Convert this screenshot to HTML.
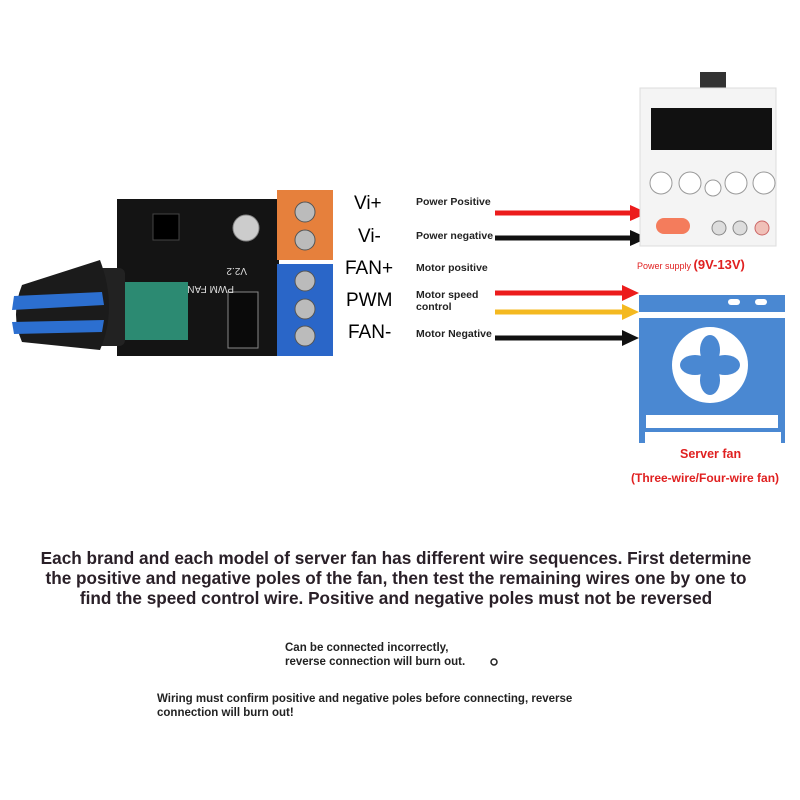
<!DOCTYPE html>
<html><head><meta charset="utf-8"><style>
body{margin:0;width:800px;height:800px;background:#fff;position:relative;overflow:hidden;font-family:"Liberation Sans",sans-serif}
.a{position:absolute;white-space:nowrap}
.t{font-weight:bold;color:#222}
</style></head><body>
<svg class="a" style="left:0;top:0" width="800" height="800">
<rect x="117" y="199" width="162" height="157" fill="#141414"/>
<rect x="153" y="214" width="26" height="26" fill="#000" stroke="#444"/>
<circle cx="246" cy="228" r="13" fill="#ccc" stroke="#888"/>
<rect x="120" y="282" width="68" height="58" fill="#2c8a72"/>
<rect x="228" y="292" width="30" height="56" fill="#0a0a0a" stroke="#888"/>
<text x="247" y="268" fill="#ddd" font-size="10" transform="rotate(180 247 268)">V2.2</text>
<text x="262" y="282" fill="#ddd" font-size="10" transform="rotate(180 248 284)">PWM FAN</text>
<rect x="277" y="190" width="56" height="70" fill="#e6803c"/>
<circle cx="305" cy="212" r="10" fill="#bbb" stroke="#555"/>
<circle cx="305" cy="240" r="10" fill="#bbb" stroke="#555"/>
<rect x="277" y="264" width="56" height="92" fill="#2a66c8"/>
<circle cx="305" cy="281" r="10" fill="#bbb" stroke="#555"/>
<circle cx="305" cy="309" r="10" fill="#bbb" stroke="#555"/>
<circle cx="305" cy="336" r="10" fill="#bbb" stroke="#555"/>
<rect x="95" y="268" width="30" height="78" rx="6" fill="#222"/>
<path d="M22,285 Q10,315 22,342 L100,350 Q118,308 100,260z" fill="#1b1b1b"/>
<path d="M14,296 L102,292 L104,305 L12,310z" fill="#2c6fd0"/>
<path d="M12,322 L104,320 L102,332 L14,334z" fill="#2c6fd0"/>
<g stroke-width="5">
<line x1="495" y1="213" x2="632" y2="213" stroke="#ec1c1c"/><path d="M630,205 L648,213 L630,221z" fill="#ec1c1c"/>
<line x1="495" y1="238" x2="632" y2="238" stroke="#111"/><path d="M630,230 L648,238 L630,246z" fill="#111"/>
<line x1="495" y1="293" x2="624" y2="293" stroke="#ec1c1c"/><path d="M622,285 L639,293 L622,301z" fill="#ec1c1c"/>
<line x1="495" y1="312" x2="624" y2="312" stroke="#f4b920"/><path d="M622,304 L639,312 L622,320z" fill="#f4b920"/>
<line x1="495" y1="338" x2="624" y2="338" stroke="#111"/><path d="M622,330 L639,338 L622,346z" fill="#111"/>
</g>
<rect x="700" y="72" width="26" height="16" fill="#333"/>
<rect x="640" y="88" width="136" height="158" fill="#f4f4f4" stroke="#ddd"/>
<rect x="651" y="108" width="121" height="42" fill="#111"/>
<circle cx="661" cy="183" r="11" fill="#fff" stroke="#999"/>
<circle cx="690" cy="183" r="11" fill="#fff" stroke="#999"/>
<circle cx="736" cy="183" r="11" fill="#fff" stroke="#999"/>
<circle cx="764" cy="183" r="11" fill="#fff" stroke="#999"/>
<circle cx="713" cy="188" r="8" fill="#fff" stroke="#999"/>
<rect x="656" y="218" width="34" height="16" rx="8" fill="#f47c5c"/>
<circle cx="719" cy="228" r="7" fill="#ddd" stroke="#888"/>
<circle cx="740" cy="228" r="7" fill="#ddd" stroke="#888"/>
<circle cx="762" cy="228" r="7" fill="#f0c0b8" stroke="#c66"/>
<g fill="#4a88d2">
<rect x="639" y="295" width="146" height="17"/>
<path d="M639,318 H785 V443 H781 V432 H645 V443 H639z"/>
</g>
<rect x="728" y="299" width="12" height="6" rx="3" fill="#fff"/>
<rect x="755" y="299" width="12" height="6" rx="3" fill="#fff"/>
<rect x="646" y="415" width="132" height="13" fill="#fff"/>
<circle cx="710" cy="365" r="38" fill="#fff"/>
<g fill="#4a88d2">
<ellipse cx="710" cy="350" rx="10" ry="15"/>
<ellipse cx="710" cy="380" rx="10" ry="15"/>
<ellipse cx="695" cy="365" rx="15" ry="10"/>
<ellipse cx="725" cy="365" rx="15" ry="10"/>
</g>
<circle cx="494" cy="662" r="3" fill="none" stroke="#222" stroke-width="1.5"/>
</svg>
<div class="a" style="left:354px;top:193px;font-size:19px">Vi+</div>
<div class="a" style="left:358px;top:226px;font-size:19px">Vi-</div>
<div class="a" style="left:345px;top:258px;font-size:19px">FAN+</div>
<div class="a" style="left:346px;top:290px;font-size:19px">PWM</div>
<div class="a" style="left:348px;top:322px;font-size:19px">FAN-</div>
<div class="a t" style="left:416px;top:196px;font-size:10.5px">Power Positive</div>
<div class="a t" style="left:416px;top:230px;font-size:10.5px">Power negative</div>
<div class="a t" style="left:416px;top:262px;font-size:10.5px">Motor positive</div>
<div class="a t" style="left:416px;top:289px;font-size:10.5px;line-height:12px">Motor speed<br>control</div>
<div class="a t" style="left:416px;top:328px;font-size:10.5px">Motor Negative</div>
<div class="a" style="left:637px;top:257px;font-size:9px;color:#e02020">Power supply <b style="font-size:13px">(9V-13V)</b></div>
<div class="a" style="left:680px;top:447px;font-size:12.5px;font-weight:bold;color:#e02020">Server fan</div>
<div class="a" style="left:631px;top:471px;font-size:12px;font-weight:bold;color:#e02020">(Three-wire/Four-wire fan)</div>
<div class="a t" style="left:0;top:548px;width:792px;text-align:center;font-size:17.2px;line-height:20px;color:#2a2028">Each brand and each model of server fan has different wire sequences. First determine<br>the positive and negative poles of the fan, then test the remaining wires one by one to<br>find the speed control wire. Positive and negative poles must not be reversed</div>
<div class="a t" style="left:285px;top:641px;font-size:11.5px;line-height:14px">Can be connected incorrectly,<br>reverse connection will burn out.</div>
<div class="a t" style="left:157px;top:692px;font-size:11.5px;line-height:14px">Wiring must confirm positive and negative poles before connecting, reverse<br>connection will burn out!</div>
</body></html>
